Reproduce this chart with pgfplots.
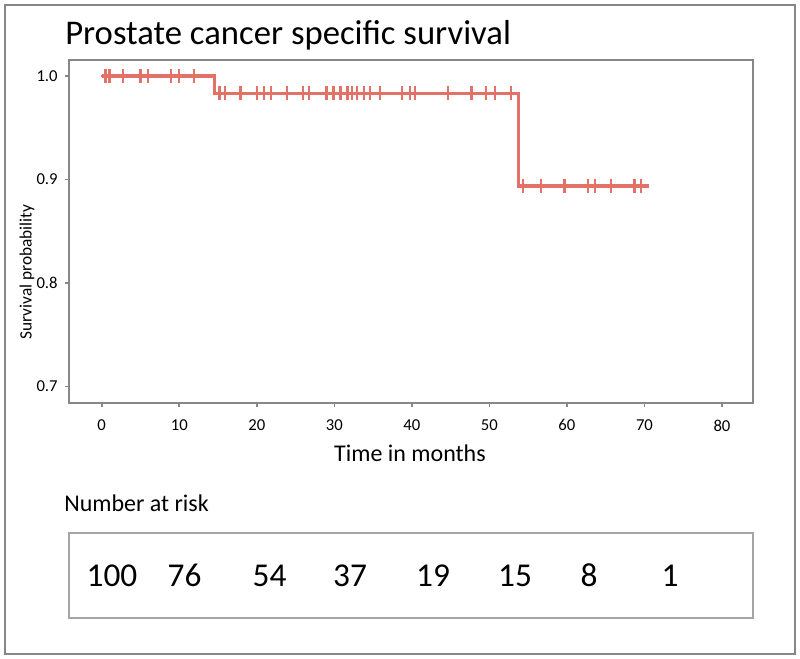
\documentclass[border=0pt]{standalone}
\usepackage{pgfplots}
\pgfplotsset{compat=1.18}
\usepackage{fontspec}
\setmainfont{Carlito}
\definecolor{kmred}{RGB}{226,114,104}
\definecolor{framegray}{RGB}{135,135,135}
\definecolor{boxgray}{RGB}{165,165,165}
\begin{document}
\begin{tikzpicture}
\useasboundingbox (0,0) rectangle (600pt,494.25pt);
\begin{axis}[
  at={(51.75pt,192pt)}, anchor=south west,
  scale only axis, width=513pt, height=257.25pt,
  xmin=-4.22, xmax=84.0, ymin=0.68406, ymax=1.01546,
  xtick={0,10,20,30,40,50,60,70,80},
  ytick={0.7,0.8,0.9,1.0},
  yticklabel style={/pgf/number format/fixed, /pgf/number format/fixed zerofill, /pgf/number format/precision=1, xshift=-2pt},
  /pgf/number format/assume math mode=true,
  ticklabel style={font=\fontsize{12.5}{14}\selectfont},
  tick align=outside, tick pos=left,
  major tick length=3pt,
  tick style={framegray, line width=1.2pt},
  axis line style={framegray, line width=1.5pt},
  xticklabel style={yshift=-6pt},
  clip=false,
]
\addplot[kmred, line width=2.3pt, const plot, mark=none] coordinates {
  (0,1.0) (14.6,1.0) (14.6,0.9833) (53.8,0.9833) (53.8,0.8937) (70.6,0.8937)
};
\addplot[kmred, only marks, mark=+, mark size=5.2pt, mark options={xscale=0.7, line width=1.7pt}] coordinates {
  (0.5,1.0) (1.0,1.0) (2.7,1.0) (5.0,1.0) (6.0,1.0) (8.9,1.0) (10.0,1.0) (11.9,1.0)
};
\addplot[kmred, only marks, mark=+, mark size=5.2pt, mark options={xscale=0.7, line width=1.7pt}] coordinates {
  (15.2,0.9833) (15.9,0.9833) (17.9,0.9833) (20.0,0.9833) (20.9,0.9833) (21.8,0.9833)
  (23.9,0.9833) (26.0,0.9833) (26.7,0.9833) (29.0,0.9833) (29.9,0.9833) (30.8,0.9833)
  (31.7,0.9833) (32.3,0.9833) (32.9,0.9833) (33.8,0.9833) (34.6,0.9833) (35.9,0.9833)
  (38.7,0.9833) (39.8,0.9833) (40.4,0.9833) (44.7,0.9833) (47.7,0.9833) (49.6,0.9833)
  (50.7,0.9833) (52.8,0.9833)
};
\addplot[kmred, only marks, mark=+, mark size=5.2pt, mark options={xscale=0.7, line width=1.7pt}] coordinates {
  (54.3,0.8937) (56.7,0.8937) (59.7,0.8937) (62.7,0.8937) (63.6,0.8937) (65.7,0.8937)
  (68.7,0.8937) (69.6,0.8937)
};
\end{axis}
\begin{scope}[x=0.75pt, y=-0.75pt, shift={(0pt,494.25pt)}]
  % outer frame
  \draw[framegray, line width=1.2pt] (5,5) rectangle (795,654);
  % title
  \node[anchor=base west, inner sep=0pt, font=\fontsize{26}{30}\selectfont] at (65,45) {Prostate cancer specific survival};
  % y label
  \node[rotate=90, inner sep=0pt, font=\fontsize{13}{15}\selectfont] at (27,272) {Survival probability};
  % x label
  \node[anchor=base, inner sep=0pt, font=\fontsize{18}{21}\selectfont] at (410,462) {Time in months};
  % number at risk
  \node[anchor=base west, inner sep=0pt, font=\fontsize{18}{21}\selectfont] at (64,512) {Number at risk};
  \draw[boxgray, line width=1.5pt] (69,533) rectangle (753,618);
  \foreach \xx/\nn in {112/100, 184.5/76, 269.5/54, 350/37, 433/19, 515/15, 589/8, 670/1} {
    \node[anchor=base, inner sep=0pt, font=\fontsize{25}{29}\selectfont] at (\xx,587) {\nn};
  }
\end{scope}
\end{tikzpicture}
\end{document}
